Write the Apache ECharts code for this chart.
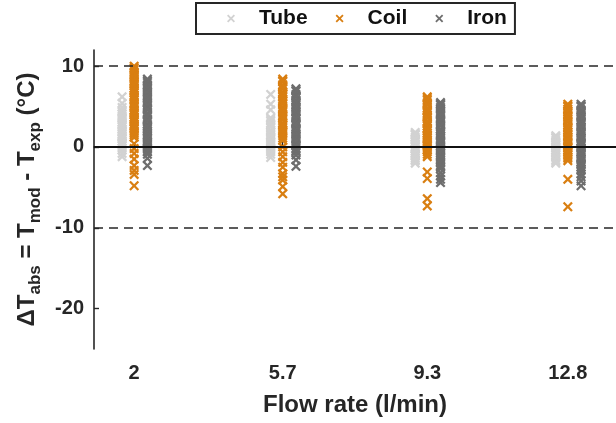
<!DOCTYPE html>
<html>
<head>
<meta charset="utf-8">
<script src="https://cdn.jsdelivr.net/npm/echarts@6/dist/echarts.min.js"></script>
<style>
  html, body { margin: 0; padding: 0; background: #fff; }
  #chart { width: 616px; height: 423px; }
</style>
</head>
<body>
<div id="chart"></div>
<script>
// flow rates (l/min) and the temperature deviations, one list per flow rate
var flowRates = [2, 5.7, 9.3, 12.8];
var yTicks = [-20, -10, 0, 10];
var refLines = [-10, 10];

var tube = [
  [6.2, 5.4, 4.9, 4.5, 4.3, 4.1, 3.8, 3.6, 3.4, 3.1, 2.9, 2.7, 2.5, 2.2, 2.0, 1.8, 1.6, 1.4, 1.2, 1.0, 0.7, 0.5, 0.4, 0.2, -0.1, -0.4, -0.8, -1.2],
  [6.5, 5.3, 4.6, 3.6, 3.4, 3.2, 2.9, 2.7, 2.5, 2.1, 1.9, 1.8, 1.5, 1.3, 1.1, 0.8, 0.6, 0.4, 0.1, -0.1, -0.3, -0.6, -0.9, -1.3],
  [1.8, 1.6, 1.5, 1.2, 1.0, 0.9, 0.6, 0.4, 0.3, 0.0, -0.2, -0.3, -0.5, -0.8, -1.0, -1.1, -1.4, -1.6, -1.7, -2.0],
  [1.4, 1.2, 1.1, 0.8, 0.6, 0.5, 0.2, 0.0, -0.1, -0.4, -0.6, -0.7, -1.0, -1.2, -1.3, -1.6, -1.8, -2.0]
];
var coil = [
  [10.0, 9.8, 9.6, 9.3, 9.1, 8.9, 8.7, 8.5, 8.2, 8.0, 7.8, 7.6, 7.3, 7.1, 6.9, 6.7, 6.4, 6.2, 6.0, 5.8, 5.5, 5.3, 5.1, 4.9, 4.6, 4.4, 4.2, 4.0, 3.7, 3.5, 3.3, 3.1, 2.8, 2.6, 2.4, 2.2, 1.9, 1.7, 1.5, 1.2, 0.4, -0.2, -0.8, -1.5, -2.3, -2.9, -3.4, -4.8],
  [8.4, 8.2, 8.1, 7.7, 7.5, 7.4, 7.2, 6.8, 6.6, 6.5, 6.2, 5.9, 5.7, 5.5, 5.3, 4.9, 4.7, 4.6, 4.3, 4.0, 3.8, 3.6, 3.4, 3.0, 2.8, 2.7, 2.4, 2.1, 1.9, 1.7, 1.4, 1.1, 0.8, 0.0, -0.6, -1.2, -1.9, -2.5, -3.3, -3.7, -4.1, -4.9, -5.8],
  [6.2, 6.0, 5.8, 5.5, 5.3, 5.2, 4.8, 4.6, 4.4, 4.2, 3.9, 3.7, 3.6, 3.2, 3.0, 2.9, 2.6, 2.3, 2.2, 2.0, 1.7, 1.5, 1.3, 1.1, 0.9, 0.7, 0.4, 0.2, 0.1, -0.2, -0.4, -0.6, -0.9, -1.2, -3.1, -3.9, -6.4, -7.3],
  [5.3, 5.1, 5.0, 4.7, 4.5, 4.3, 4.0, 3.8, 3.7, 3.4, 3.2, 3.1, 2.7, 2.5, 2.4, 2.1, 1.9, 1.8, 1.5, 1.3, 1.2, 0.9, 0.7, 0.5, 0.2, 0.0, -0.1, -0.4, -0.6, -0.7, -1.0, -1.2, -1.4, -1.7, -4.0, -7.4]
];
var iron = [
  [8.4, 8.2, 8.0, 7.7, 7.5, 7.3, 7.0, 6.8, 6.6, 6.3, 6.1, 5.9, 5.6, 5.4, 5.2, 4.9, 4.7, 4.6, 4.2, 4.0, 3.9, 3.5, 3.3, 3.2, 2.8, 2.6, 2.5, 2.2, 2.0, 1.8, 1.5, 1.3, 1.1, 0.8, 0.6, 0.4, 0.1, -0.1, -0.3, -0.6, -0.9, -1.4, -2.3],
  [7.2, 7.0, 6.9, 6.5, 6.3, 6.2, 5.8, 5.6, 5.5, 5.2, 5.0, 4.8, 4.5, 4.3, 4.1, 3.8, 3.6, 3.5, 3.1, 2.9, 2.8, 2.4, 2.2, 2.1, 1.8, 1.6, 1.4, 1.1, 0.9, 0.7, 0.4, 0.2, 0.1, -0.3, -0.5, -0.6, -1.0, -1.6, -2.4],
  [5.5, 5.3, 5.2, 4.9, 4.7, 4.5, 4.2, 4.0, 3.9, 3.5, 3.3, 3.2, 2.9, 2.7, 2.6, 2.2, 2.0, 1.9, 1.6, 1.4, 1.3, 0.9, 0.7, 0.6, 0.3, 0.1, 0.0, -0.3, -0.5, -0.7, -1.0, -1.2, -1.3, -1.6, -1.8, -2.0, -2.3, -2.5, -2.7, -3.2, -3.6, -4.0, -4.4],
  [5.3, 5.1, 5.0, 4.6, 4.4, 4.3, 4.0, 3.8, 3.7, 3.3, 3.1, 3.0, 2.7, 2.5, 2.4, 2.0, 1.8, 1.7, 1.4, 1.2, 1.1, 0.7, 0.5, 0.4, 0.1, -0.1, -0.2, -0.6, -0.8, -0.9, -1.2, -1.4, -1.5, -1.9, -2.1, -2.2, -2.5, -2.7, -2.9, -3.3, -3.7, -4.2, -4.8]
];

var crossPath = 'path://M0,1.6L1.6,0L5,3.4L8.4,0L10,1.6L6.6,5L10,8.4L8.4,10L5,6.6L1.6,10L0,8.4L3.4,5Z';
var font = 'Liberation Sans, Arial, sans-serif';

function points(lists, shift) {
  var out = [];
  lists.forEach(function (vals, i) {
    vals.forEach(function (v) { out.push([flowRates[i] + shift, v]); });
  });
  return out;
}

function scatter(name, lists, shift, color) {
  return {
    name: name,
    type: 'scatter',
    data: points(lists, shift),
    symbol: crossPath,
    symbolSize: 10,
    symbolKeepAspect: true,
    itemStyle: { color: color, opacity: 1 },
    emphasis: { disabled: true },
    silent: true
  };
}

var series = [
  scatter('Tube', tube, -0.3, '#d2d2d2'),
  scatter('Coil', coil, 0, '#d97f12'),
  scatter('Iron', iron, 0.33, '#6e6e6e')
];

series[2].markLine = {
  silent: true,
  symbol: 'none',
  label: { show: false },
  data: refLines.map(function (v) {
    return { yAxis: v, lineStyle: { type: [9, 6], color: '#262626', width: 1.6 } };
  }).concat([{ yAxis: 0, lineStyle: { type: 'solid', color: '#111', width: 1.8 } }])
};

var chart = echarts.init(document.getElementById('chart'));
chart.setOption({
  animation: false,
  textStyle: { fontFamily: font },
  legend: {
    left: 196,
    top: 3,
    padding: [5, 8, 5, 31],
    itemGap: 28,
    itemWidth: 46,
    itemHeight: 8,
    borderColor: '#262626',
    borderWidth: 2,
    backgroundColor: '#fff',
    selectedMode: false,
    textStyle: { fontSize: 21, fontWeight: 'bold', color: '#111', fontFamily: font },
    data: ['Tube', 'Coil', 'Iron']
  },
  grid: { left: 94, right: 0, top: 50, bottom: 74 },
  xAxis: {
    type: 'value',
    min: 1,
    max: 14,
    name: 'Flow rate (l/min)',
    nameLocation: 'middle',
    nameGap: 44,
    nameTextStyle: { fontSize: 24, fontWeight: 'bold', color: '#262626' },
    axisLine: { lineStyle: { color: '#262626', width: 1.6 } },
    axisTick: { inside: true, length: 5, customValues: flowRates, lineStyle: { color: '#262626', width: 1.4 } },
    axisLabel: { customValues: flowRates, margin: 14, fontSize: 20, fontWeight: 'bold', color: '#262626' },
    splitLine: { show: false }
  },
  yAxis: {
    type: 'value',
    min: -25,
    max: 12,
    name: '{m|ΔT}{s|abs}{m| = T}{s|mod}{m| - T}{s|exp}{m| (°C)}',
    nameLocation: 'middle',
    nameRotate: 90,
    nameGap: 38,
    nameTextStyle: {
      rich: {
        m: { fontSize: 24, fontWeight: 'bold', color: '#262626', fontFamily: font, verticalAlign: 'top', lineHeight: 29 },
        s: { fontSize: 17, fontWeight: 'bold', color: '#262626', fontFamily: font, verticalAlign: 'bottom', lineHeight: 29 }
      }
    },
    axisLine: { show: true, lineStyle: { color: '#262626', width: 1.6 } },
    axisTick: { show: true, inside: true, length: 5, customValues: yTicks, lineStyle: { color: '#262626', width: 1.4 } },
    axisLabel: { customValues: yTicks, margin: 10, fontSize: 20, fontWeight: 'bold', color: '#262626' },
    splitLine: { show: false }
  },
  series: series
});
</script>
</body>
</html>
